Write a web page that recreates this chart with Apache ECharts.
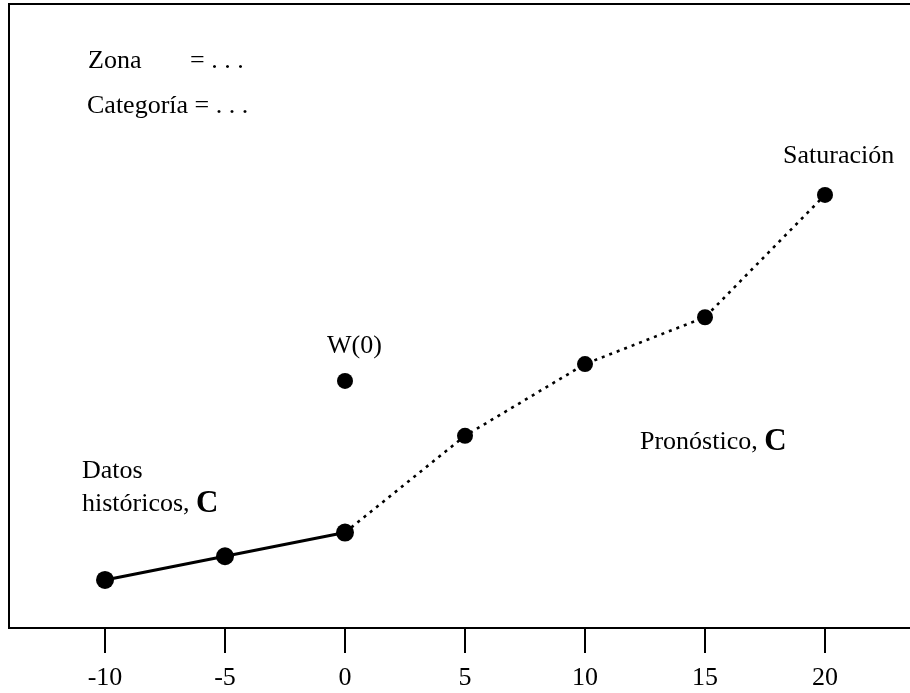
<!DOCTYPE html>
<html><head><meta charset="utf-8">
<script src="https://cdn.jsdelivr.net/npm/echarts@6/dist/echarts.min.js"></script>
<style>html,body{margin:0;padding:0;background:#fff}#c{width:910px;height:693px}</style>
</head><body><div id="c"></div>
<script>
var tickLabels = [-10, -5, 0, 5, 10, 15, 20];
var histX = [-10, -5, 0];
var histY = [7.7, 11.5, 15.3];
var foreX = [0, 5, 10, 15, 20];
var foreY = [15.3, 30.8, 42.3, 49.8, 69.4];
var w0 = [0, 39.6];

var F = '"Liberation Serif","Times New Roman",serif';
var chart = echarts.init(document.getElementById('c'));
function pairs(xs, ys){ return xs.map(function(x,i){ return [x, ys[i]]; }); }
function txt(x, y, t){ return { type: 'text', x: x, y: y, style: { text: t, font: '26px ' + F, fill: '#000', verticalAlign: 'middle' } }; }
function richTxt(x, y, a){
  return { type: 'text', x: x, y: y, style: { text: '{n|' + a + '}{b|C}', verticalAlign: 'middle',
    rich: { n: { font: '26px ' + F, fill: '#000' }, b: { font: 'bold 31px ' + F, fill: '#000' } } } };
}
chart.setOption({
  animation: false,
  grid: { left: 9, top: 4, width: 912, height: 624, outerBoundsMode: 'none', containLabel: false,
          show: true, borderColor: '#000', borderWidth: 2, backgroundColor: 'transparent' },
  xAxis: {
    type: 'value', min: -14, max: 24,
    axisLine: { show: true, onZero: false, lineStyle: { color: '#000', width: 2 } },
    axisTick: { show: true, inside: false, length: 25, lineStyle: { color: '#000', width: 2 }, customValues: tickLabels },
    axisLabel: { show: true, color: '#000', fontFamily: F, fontSize: 26, margin: 37, customValues: tickLabels },
    splitLine: { show: false }
  },
  yAxis: {
    type: 'value', min: 0, max: 100,
    axisLine: { show: true, onZero: false, lineStyle: { color: '#000', width: 2 } },
    axisTick: { show: false }, axisLabel: { show: false }, splitLine: { show: false }
  },
  series: [
    { type: 'line', data: pairs(foreX, foreY), symbol: 'circle', symbolSize: 16, showAllSymbol: true,
      itemStyle: { color: '#000' }, lineStyle: { color: '#000', width: 2.6, type: [3, 5] }, z: 2 },
    { type: 'line', data: pairs(histX, histY), symbol: 'circle', symbolSize: 18,
      itemStyle: { color: '#000' }, lineStyle: { color: '#000', width: 3 }, z: 3 },
    { type: 'scatter', data: [w0], symbol: 'circle', symbolSize: 16, itemStyle: { color: '#000', opacity: 1 }, z: 3 }
  ],
  graphic: [
    txt(88, 61, 'Zona'),
    txt(190, 61, '= . . .'),
    txt(87, 106, 'Categoría = . . .'),
    txt(783, 156, 'Saturación'),
    txt(327, 346, 'W(0)'),
    richTxt(640, 442, 'Pronóstico, '),
    txt(82, 471, 'Datos'),
    richTxt(82, 504, 'históricos, ')
  ]
});
</script></body></html>
